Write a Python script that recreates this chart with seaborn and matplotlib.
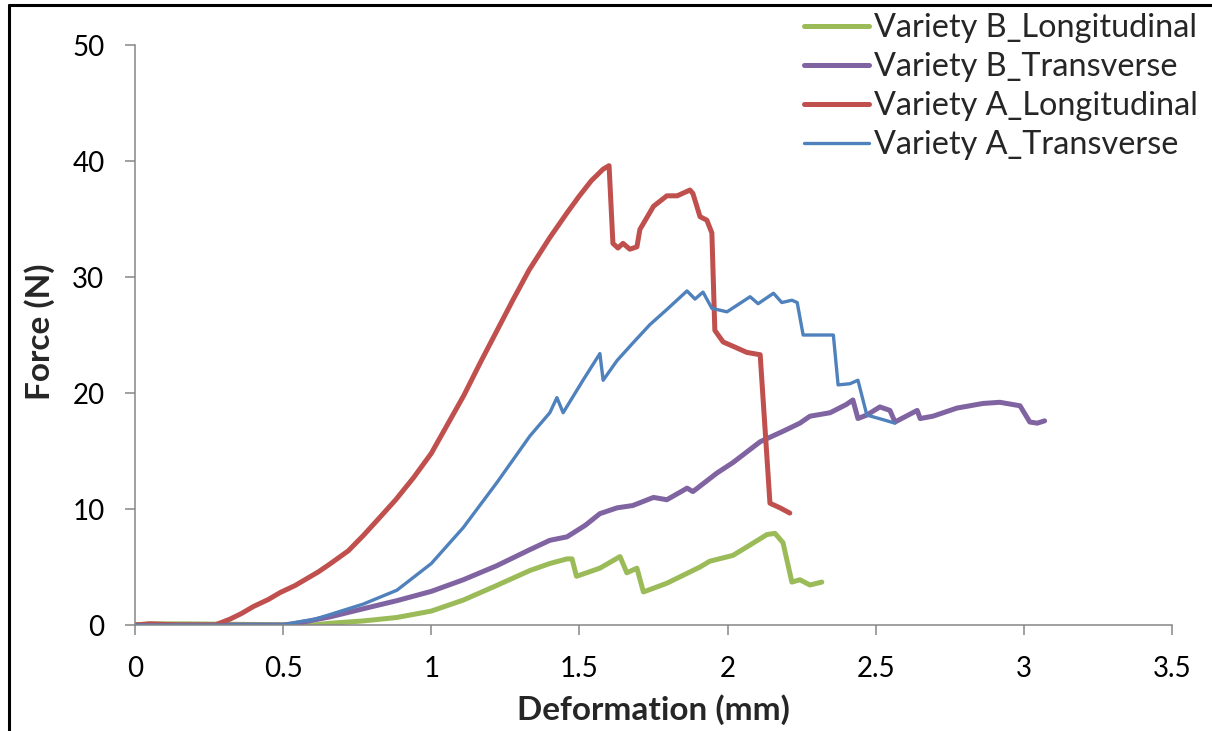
import matplotlib
matplotlib.use("Agg")
import matplotlib.pyplot as plt
import seaborn as sns
import pandas as pd
from matplotlib.lines import Line2D

b_long_x = [0.0, 0.05, 0.17, 0.6, 0.658, 0.77, 0.884, 1.0, 1.108, 1.22, 1.333, 1.40, 1.458, 1.475,
            1.49, 1.569, 1.637, 1.66, 1.694, 1.716, 1.795, 1.907, 1.94, 2.018, 2.076, 2.133, 2.16,
            2.187, 2.217, 2.244, 2.278, 2.318]
b_long_y = [0.0, 0.1, 0.1, 0.0, 0.15, 0.35, 0.65, 1.2, 2.15, 3.4, 4.7, 5.3, 5.7, 5.7,
            4.2, 4.9, 5.9, 4.5, 4.9, 2.85, 3.6, 5.0, 5.5, 6.0, 6.9, 7.8, 7.9,
            7.1, 3.7, 3.9, 3.45, 3.7]

b_trans_x = [0.0, 0.5, 0.547, 0.658, 0.77, 0.884, 1.0, 1.108, 1.22, 1.333, 1.40, 1.458, 1.52,
             1.569, 1.627, 1.68, 1.75, 1.795, 1.85, 1.863, 1.883, 1.964, 2.018, 2.11, 2.187,
             2.244, 2.278, 2.346, 2.40, 2.423, 2.44, 2.47, 2.514, 2.548, 2.565, 2.64, 2.65,
             2.693, 2.774, 2.862, 2.919, 2.987, 3.02, 3.045, 3.07]
b_trans_y = [0.0, 0.0, 0.15, 0.7, 1.4, 2.1, 2.9, 3.9, 5.1, 6.5, 7.3, 7.6, 8.6,
             9.6, 10.1, 10.3, 11.0, 10.8, 11.6, 11.8, 11.5, 13.1, 14.0, 15.8, 16.7,
             17.4, 18.0, 18.3, 19.0, 19.4, 17.8, 18.1, 18.8, 18.5, 17.5, 18.5, 17.8,
             18.0, 18.7, 19.1, 19.2, 18.9, 17.5, 17.4, 17.6]

a_long_x = [0.0, 0.05, 0.15, 0.27, 0.32, 0.36, 0.40, 0.45, 0.49, 0.54, 0.58, 0.62, 0.66, 0.72,
            0.77, 0.82, 0.88, 0.94, 1.00, 1.055, 1.11, 1.165, 1.22, 1.275, 1.33, 1.40, 1.46,
            1.50, 1.54, 1.58, 1.60, 1.613, 1.63, 1.647, 1.67, 1.694, 1.704, 1.75,
            1.795, 1.83, 1.873, 1.883, 1.907, 1.93, 1.947, 1.957, 1.985, 2.03, 2.065, 2.11,
            2.143, 2.177, 2.21]
a_long_y = [0.0, 0.1, 0.0, 0.0, 0.5, 1.0, 1.6, 2.2, 2.8, 3.4, 4.0, 4.6, 5.3, 6.4,
            7.7, 9.1, 10.8, 12.7, 14.8, 17.3, 19.8, 22.6, 25.3, 28.0, 30.6, 33.4, 35.6,
            37.0, 38.3, 39.3, 39.6, 32.9, 32.5, 32.9, 32.4, 32.6, 34.1, 36.1,
            37.0, 37.0, 37.5, 37.2, 35.2, 34.9, 33.8, 25.4, 24.4, 23.9, 23.5, 23.3,
            10.5, 10.1, 9.65]

a_trans_x = [0.0, 0.5, 0.547, 0.60, 0.658, 0.77, 0.884, 1.0, 1.108, 1.222, 1.333, 1.40, 1.424,
             1.445, 1.512, 1.569, 1.58, 1.627, 1.68, 1.738, 1.795, 1.863, 1.89, 1.917, 1.947,
             1.998, 2.04, 2.076, 2.103, 2.155, 2.183, 2.217, 2.235, 2.255, 2.357, 2.373,
             2.413, 2.44, 2.47, 2.525, 2.565]
a_trans_y = [0.0, 0.0, 0.25, 0.45, 0.9, 1.8, 3.0, 5.3, 8.4, 12.3, 16.3, 18.3, 19.6,
             18.3, 21.1, 23.4, 21.1, 22.8, 24.3, 25.9, 27.2, 28.8, 28.1, 28.7, 27.3,
             27.0, 27.7, 28.3, 27.7, 28.6, 27.8, 28.0, 27.8, 25.0, 25.0, 20.7,
             20.8, 21.1, 18.1, 17.7, 17.4]

labels = ["Variety B_Longitudinal", "Variety B_Transverse",
          "Variety A_Longitudinal", "Variety A_Transverse"]
colors = ["#9BBB59", "#8064A2", "#C0504D", "#4F81BD"]
widths = [3.6, 3.6, 3.6, 2.4]
xs = [b_long_x, b_trans_x, a_long_x, a_trans_x]
ys = [b_long_y, b_trans_y, a_long_y, a_trans_y]

x_ticks = [0, 0.5, 1, 1.5, 2, 2.5, 3, 3.5]
x_tick_labels = ["0", "0.5", "1", "1.5", "2", "2.5", "3", "3.5"]
y_ticks = [0, 10, 20, 30, 40, 50]

sns.set_theme(style="white")
plt.rcParams['font.family'] = ['Lato', 'DejaVu Sans']

fig = plt.figure(figsize=(12.12, 7.31), dpi=100)
ax = fig.add_axes([0.1114, 0.145, 0.8556, 0.7934])

for lab, x, y, c, w in zip(labels, xs, ys, colors, widths):
    df = pd.DataFrame({"Deformation": x, "Force": y})
    sns.lineplot(data=df, x="Deformation", y="Force", ax=ax, color=c, linewidth=w,
                 label=lab, sort=False, estimator=None)

for ln in ax.lines:
    ln.set_solid_joinstyle("round")
    ln.set_solid_capstyle("round")

ax.set_xlim(0, 3.5)
ax.set_ylim(0, 50)
ax.set_xticks(x_ticks)
ax.set_xticklabels(x_tick_labels)
ax.set_yticks(y_ticks)
ax.tick_params(axis="both", bottom=True, left=True, direction="out", length=7,
               width=1.1, color="#868686", labelsize=20, pad=15, labelcolor="black")

for side in ["top", "right"]:
    ax.spines[side].set_visible(False)
for side in ["left", "bottom"]:
    ax.spines[side].set_color("#868686")
    ax.spines[side].set_linewidth(1.1)

ax.set_xlabel("Deformation (mm)", fontsize=24, fontweight="bold", va="center")
ax.xaxis.set_label_coords(0.5, -0.1466)
ax.set_ylabel("Force (N)", fontsize=24, fontweight="bold", va="center")
ax.yaxis.set_label_coords(-0.0916, 0.505)

handles, labs = ax.get_legend_handles_labels()
ax.get_legend().remove()
fig.legend(handles, labs, loc="upper left", bbox_to_anchor=(804 / 1212, 1 - 13 / 731),
           frameon=False, fontsize=23.3, borderpad=0, borderaxespad=0,
           handlelength=2.0, handletextpad=0.15, labelspacing=0.28)

# black frame along left and top edge, as in the picture
fig.add_artist(Line2D([9 / 1212, 9 / 1212], [0, 1 - 5 / 731], transform=fig.transFigure,
                      color="black", linewidth=2.2))
fig.add_artist(Line2D([9 / 1212, 1], [1 - 5 / 731, 1 - 5 / 731], transform=fig.transFigure,
                      color="black", linewidth=2.2))

fig.savefig("out.png", dpi=100)
